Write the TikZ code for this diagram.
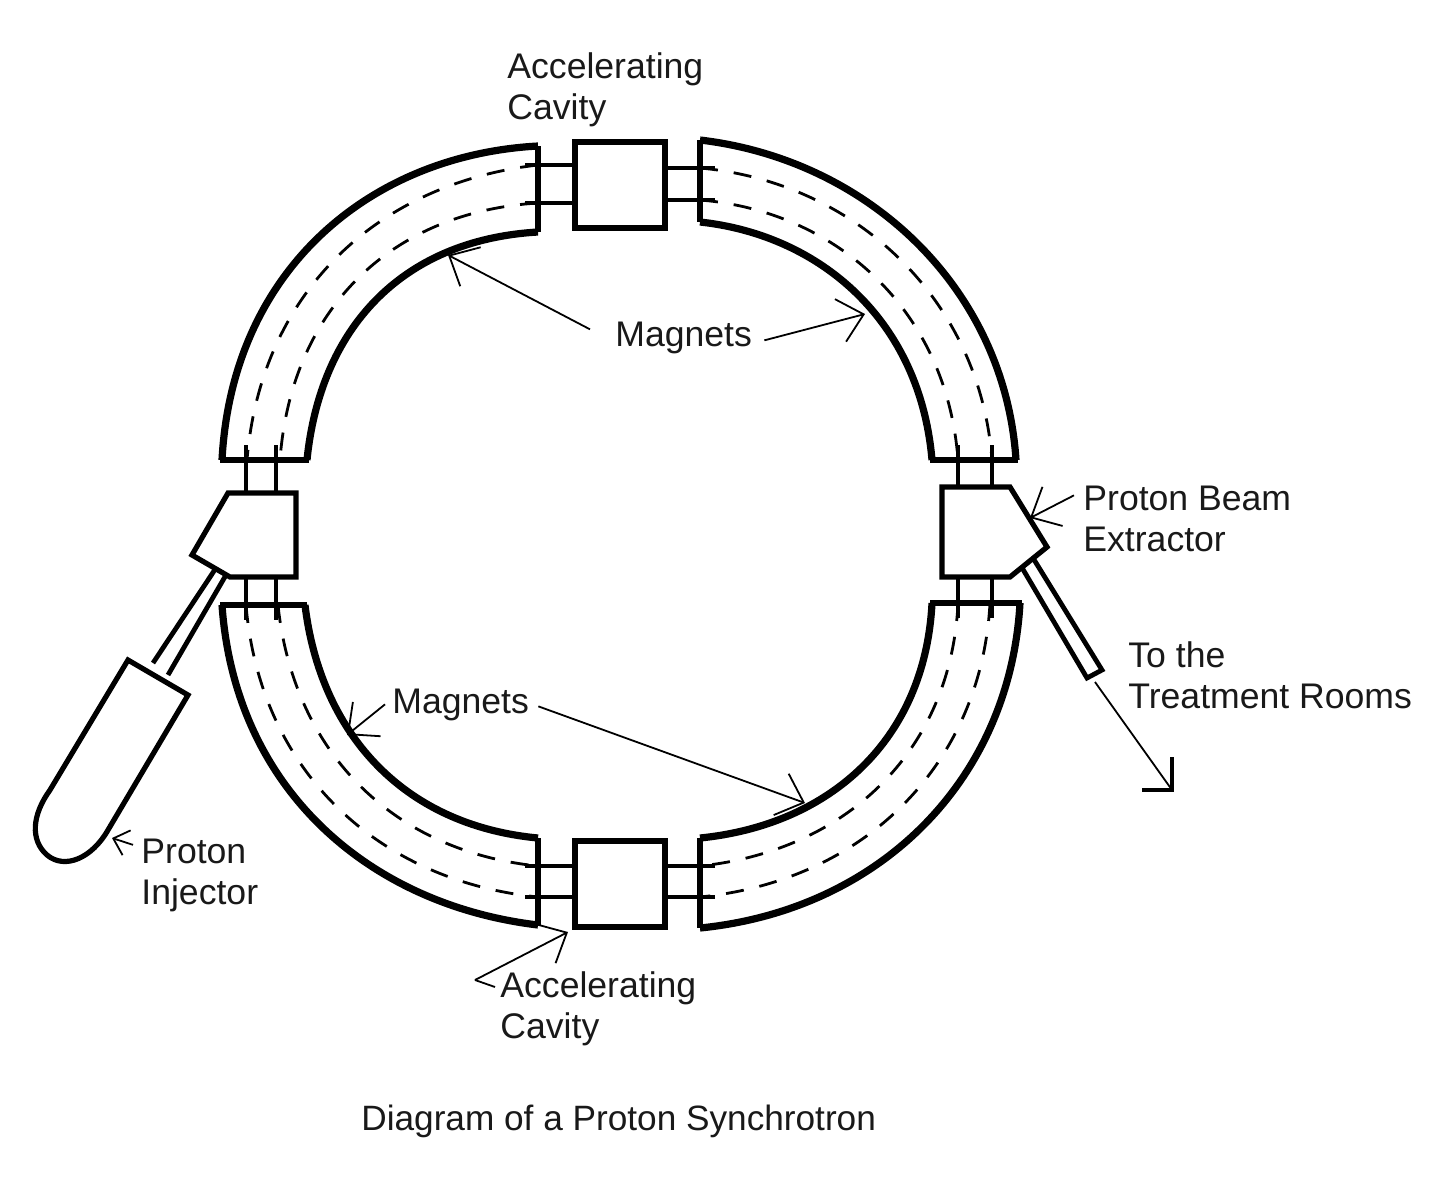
\documentclass[tikz,border=0pt]{standalone}
\usepackage{fontspec}
\setmainfont{Liberation Sans}
\usetikzlibrary{arrows.meta}

\begin{document}
\begin{tikzpicture}[
		x=0.5pt,y=-0.5pt,
		wall/.style={line width=3.6pt,line join=miter},
		rim/.style={line width=2.6pt,line join=miter},
		beam/.style={line width=1.4pt,dash pattern=on 9pt off 8pt},
		link/.style={line width=2.4pt},
		note/.style={line width=0.9pt,-{Straight Barb[length=12pt,width=22pt,line width=0.9pt]}},
		small note/.style={line width=0.9pt,-{Straight Barb[length=7pt,width=13pt,line width=0.9pt]}},
		cavity/.style={rectangle,draw,line width=2.8pt,minimum width=45pt,minimum height=43pt,inner sep=0},
		label/.style={anchor=north west,inner sep=0,align=left,font=\fontsize{17.8}{20.5}\selectfont,text=black!90}]

		\useasboundingbox (0,0) rectangle (1435,1200);

		% cavities
		\node[cavity] (cavT) at (620,185) {};
		\node[cavity] (cavB) at (620,884) {};

		% dashed beam paths
		\draw[beam] (538,165) .. controls (380,183) and (261,290) .. (247,460);
		\draw[beam] (538,203) .. controls (390,212) and (291,310) .. (280,460);
		\draw[beam] (700,168) .. controls (855,182) and (980,299) .. (992,460);
		\draw[beam] (700,200) .. controls (836,211) and (947,310) .. (958,460);
		\draw[beam] (246,605) .. controls (260,772) and (379,881) .. (538,897);
		\draw[beam] (278,605) .. controls (293,749) and (390,851) .. (538,866);
		\draw[beam] (958,603) .. controls (951,752) and (845,851) .. (700,866);
		\draw[beam] (990,603) .. controls (981,766) and (863,881) .. (700,897);

		% magnets
		\draw[rim] (538,146) -- (538,232);
		\draw[wall] (222,460) .. controls (232,270) and (370,155) .. (538,146);
		\draw[wall] (307,460) .. controls (320,330) and (400,240) .. (538,232);
		\draw[rim] (220,460) -- (309,460);

		\draw[rim] (700,140) -- (700,222);
		\draw[wall] (1016,460) .. controls (1005,290) and (870,160) .. (700,140);
		\draw[wall] (932,460) .. controls (920,320) and (820,235) .. (700,222);
		\draw[rim] (930,460) -- (1018,460);

		\draw[rim] (538,838) -- (538,925);
		\draw[wall] (222,605) .. controls (235,790) and (370,905) .. (538,925);
		\draw[wall] (305,605) .. controls (320,730) and (400,825) .. (538,838);
		\draw[rim] (220,605) -- (307,605);

		\draw[rim] (700,838) -- (700,928);
		\draw[wall] (1020,603) .. controls (1010,780) and (880,910) .. (700,928);
		\draw[wall] (932,603) .. controls (925,740) and (830,825) .. (700,838);
		\draw[rim] (930,603) -- (1022,603);

		% links to the cavities
		\foreach \ya in {165,203} \draw[link] (525,\ya) -- (cavT.west |- 0,\ya);
		\foreach \ya in {168,200} \draw[link] (715,\ya) -- (cavT.east |- 0,\ya);
		\foreach \ya in {866,897} \draw[link] (525,\ya) -- (cavB.west |- 0,\ya);
		\foreach \ya in {866,897} \draw[link] (715,\ya) -- (cavB.east |- 0,\ya);

		% links to injector and extractor
		\foreach \xa in {246,276} {
			\draw[link] (\xa,445) -- (\xa,492);
			\draw[link] (\xa,577) -- (\xa,620);
		}
		\foreach \xa in {958,992} {
			\draw[link] (\xa,445) -- (\xa,487);
			\draw[link] (\xa,577) -- (\xa,618);
		}

		% injector
		\draw[rim] (228,493) -- (296,493) -- (296,577) -- (230,577) -- (192,555) -- cycle;
		\draw[link] (216,568) -- (153,663);
		\draw[link] (226,575) -- (168,675);
		\draw[rim] (128,660) -- (188,695) -- (108,830)
			.. controls (92,858) and (65,870) .. (47,855)
			.. controls (30,840) and (32,815) .. (50,790) -- cycle;

		% extractor
		\draw[rim] (942,487) -- (1010,487) -- (1047,547) -- (1010,577) -- (942,577) -- cycle;
		\draw[link] (1021,566) -- (1087,678) -- (1102,670) -- (1033,558);

		% labels
		\node[label] (lAccT) at (507,52)   {Accelerating\\Cavity};
		\node[label] (lMagT) at (615,322)  {Magnets};
		\node[label] (lMagB) at (392,689)  {Magnets};
		\node[label] (lExt)  at (1083,486) {Proton Beam\\Extractor};
		\node[label] (lTo)   at (1128,641) {To the\\Treatment Rooms};
		\node[label] (lInj)  at (141,839)  {Proton\\Injector};
		\node[label] (lAccB) at (500,971)  {Accelerating\\Cavity};
		\node[label,font=\fontsize{17.6}{20.5}\selectfont] (lTitle) at (361,1105) {Diagram of a Proton Synchrotron};

		% pointers
		\coordinate (pMagTL) at (448,255);
		\coordinate (pMagTR) at (865,314);
		\coordinate (pMagBL) at (347,735);
		\coordinate (pMagBR) at (805,803);
		\coordinate (pExt)   at (1030,518);
		\coordinate (pInj)   at (112,838);
		\coordinate (pAccB)  at (568,932);
		\coordinate (pTo)    at (1172,790);
		\coordinate (tTo)    at (1095,682);
		\coordinate (bToA)   at (1172,757);
		\coordinate (bToB)   at (1142,790);
		\coordinate (tAccA)  at (475,980);
		\coordinate (tAccB)  at (495,987);

		\draw[note] (lMagT.west) ++(-25,-9) -- (pMagTL);
		\draw[note] (lMagT.east) ++(12,2) -- (pMagTR);
		\draw[note] (lMagB.west) ++(-7,-1) -- (pMagBL);
		\draw[note] (lMagB.east) ++(9,1) -- (pMagBR);
		\draw[note] (lExt.west) ++(-9,-24) -- (pExt);
		\draw[small note] (lInj.west) ++(-8,-31) -- (pInj);
		\draw[line width=0.9pt] (tTo) -- (pTo);
		\draw[line width=1.6pt] (bToA) -- (pTo) -- (bToB);
		\draw[note] (tAccA) -- (pAccB);
		\draw[line width=0.9pt] (tAccA) -- (tAccB);

\end{tikzpicture}
\end{document}
